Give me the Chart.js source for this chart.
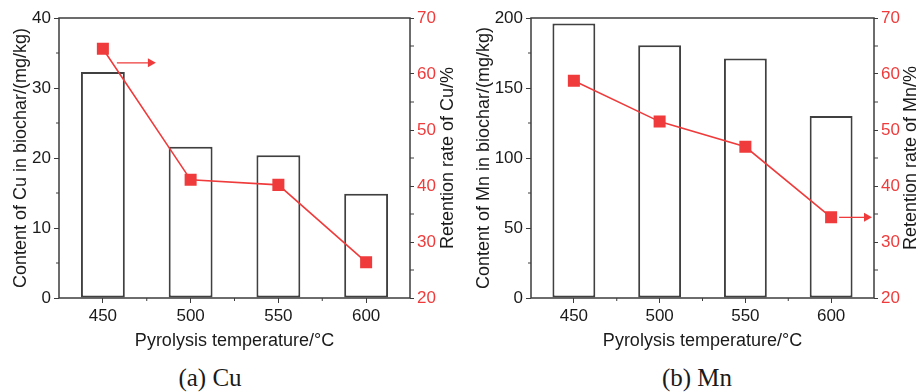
<!DOCTYPE html>
<html>
<head>
<meta charset="utf-8">
<script src="https://cdn.jsdelivr.net/npm/chart.js@4.4.0/dist/chart.umd.min.js"></script>
<style>
  body { margin: 0; background: #fff; width: 920px; height: 392px; position: relative; overflow: hidden; }
  canvas { position: absolute; top: 0; }
  .caption { position: absolute; top: 364px; font-family: "Liberation Serif", "Times New Roman", serif; font-size: 25px; color: #1a1a1a; transform: translateX(-50%); white-space: nowrap; }
</style>
</head>
<body>
<canvas id="chart-cu" width="460" height="352" style="left:0"></canvas>
<canvas id="chart-mn" width="463" height="352" style="left:460px"></canvas>
<div class="caption" style="left:210px">(a) Cu</div>
<div class="caption" style="left:697px">(b) Mn</div>
<script>
const temps = ['450', '500', '550', '600'];
const cuContent = [32.3, 21.6, 20.4, 14.9];
const cuRetention = [64.5, 41.1, 40.2, 26.4];
const mnContent = [196, 180.5, 171, 130];
const mnRetention = [58.8, 51.5, 47.0, 34.4];

const red = '#ef3b3b';
const axisColor = '#3c3c3c';
const textColor = '#1a1a1a';
const sans = '"Liberation Sans", Arial, sans-serif';

// frame, minor ticks, right axis title (reads bottom-to-top) and the arrow
const extras = {
  id: 'extras',
  afterDraw(chart, args, opts) {
    const { ctx, chartArea: a, scales } = chart;
    ctx.save();
    ctx.strokeStyle = axisColor;
    ctx.lineWidth = 1;
    const line = (x1, y1, x2, y2) => { ctx.beginPath(); ctx.moveTo(x1, y1); ctx.lineTo(x2, y2); ctx.stroke(); };

    // minor ticks halfway between majors
    const yt = scales.y.ticks;
    for (let i = 0; i < yt.length - 1; i++) {
      const p = scales.y.getPixelForValue((yt[i].value + yt[i + 1].value) / 2);
      line(a.left - 3, p, a.left, p);
    }
    const y1t = scales.y1.ticks;
    for (let i = 0; i < y1t.length - 1; i++) {
      const p = scales.y1.getPixelForValue((y1t[i].value + y1t[i + 1].value) / 2);
      line(a.right, p, a.right + 4, p);
    }
    for (let i = 0; i < temps.length - 1; i++) {
      const p = (scales.x.getPixelForTick(i) + scales.x.getPixelForTick(i + 1)) / 2;
      line(p, a.bottom, p, a.bottom + 3);
    }

    // plot frame
    ctx.lineWidth = 1.5;
    ctx.strokeRect(a.left, a.top, a.right - a.left, a.bottom - a.top);

    // right axis title
    ctx.save();
    ctx.translate(opts.rightTitleX, (a.top + a.bottom) / 2);
    ctx.rotate(-Math.PI / 2);
    ctx.fillStyle = textColor;
    ctx.font = '18px ' + sans;
    ctx.textAlign = 'center';
    ctx.textBaseline = 'middle';
    ctx.fillText(opts.rightTitle, 0, 0);
    ctx.restore();

    // arrow
    const arr = opts.arrow;
    const pt = chart.getDatasetMeta(1).data[arr.index];
    const ay = pt.y + arr.dy;
    const x1 = pt.x + arr.from;
    const x2 = arr.toEdge ? a.right - 2 : pt.x + arr.to;
    ctx.strokeStyle = red;
    ctx.fillStyle = red;
    ctx.lineWidth = 1.3;
    line(x1, ay, x2 - 6, ay);
    ctx.beginPath();
    ctx.moveTo(x2, ay);
    ctx.lineTo(x2 - 8, ay - 4.5);
    ctx.lineTo(x2 - 8, ay + 4.5);
    ctx.closePath();
    ctx.fill();
    ctx.restore();
  }
};

const makeChart = (id, content, retention, leftMax, leftStep, leftTitle, leftTitlePad, rightTitle, rightTitleX, leftWidth, rightWidth, arrow) => {
  const config = {
    data: {
      labels: temps,
      datasets: [
        {
          type: 'bar',
          data: content,
          backgroundColor: '#ffffff',
          borderColor: '#404040',
          borderWidth: 2,
          borderSkipped: false,
          categoryPercentage: 1,
          barPercentage: 0.5,
          yAxisID: 'y',
          order: 1
        },
        {
          type: 'line',
          data: retention,
          borderColor: red,
          borderWidth: 1.6,
          pointStyle: 'rect',
          pointRadius: 8.5,
          pointBackgroundColor: red,
          pointBorderColor: red,
          pointBorderWidth: 0,
          yAxisID: 'y1',
          order: 0
        }
      ]
    },
    options: {
      responsive: false,
      animation: false,
      devicePixelRatio: 1,
      layout: { padding: { top: 18, left: 0, right: 0, bottom: 0 } },
      plugins: {
        legend: { display: false },
        tooltip: { enabled: false },
        extras: { arrow: arrow, rightTitle: rightTitle, rightTitleX: rightTitleX }
      },
      scales: {
        x: {
          type: 'category',
          offset: true,
          border: { display: false },
          grid: { drawOnChartArea: false, drawTicks: true, tickLength: 5, tickColor: axisColor, offset: false },
          ticks: { color: textColor, font: { family: sans, size: 17 }, padding: 3, maxRotation: 0 },
          title: { display: true, text: 'Pyrolysis temperature/°C', color: textColor, font: { family: sans, size: 18 }, padding: { top: 0, bottom: 0 } },
          afterFit: (s) => { s.height = 54; }
        },
        y: {
          position: 'left',
          min: 0,
          max: leftMax,
          border: { display: false },
          grid: { drawOnChartArea: false, drawTicks: true, tickLength: 5, tickColor: axisColor },
          ticks: { stepSize: leftStep, color: textColor, font: { family: sans, size: 17 }, padding: 3 },
          title: { display: true, text: leftTitle, color: textColor, font: { family: sans, size: 18 }, padding: { top: leftTitlePad, bottom: 0 } },
          afterFit: (s) => { s.width = leftWidth; }
        },
        y1: {
          position: 'right',
          min: 20,
          max: 70,
          border: { display: false },
          grid: { drawOnChartArea: false, drawTicks: true, tickLength: 4, tickColor: axisColor },
          ticks: { stepSize: 10, color: red, font: { family: sans, size: 17 }, padding: 3 },
          title: { display: false },
          afterFit: (s) => { s.width = rightWidth; }
        }
      }
    },
    plugins: [extras]
  };
  return new Chart(document.getElementById(id), config);
};

makeChart('chart-cu', cuContent, cuRetention, 40, 10,
  'Content of Cu in biochar/(mg/kg)', 10, 'Retention rate of Cu/%', 448, 59, 50,
  { index: 0, from: 14, to: 53, dy: 14 });

makeChart('chart-mn', mnContent, mnRetention, 200, 50,
  'Content of Mn in biochar/(mg/kg)', 13, 'Retention rate of Mn/%', 451, 71, 49,
  { index: 3, from: 8, toEdge: true, dy: 0 });
</script>
</body>
</html>
